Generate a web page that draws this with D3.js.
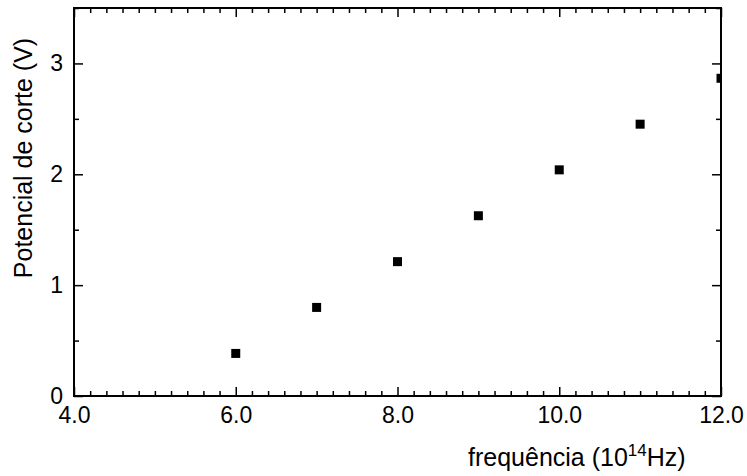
<!DOCTYPE html>
<html>
<head>
<meta charset="utf-8">
<script src="https://cdn.jsdelivr.net/npm/d3@7"></script>
<style>
body { margin: 0; background: #fff; }
text { font-family: "Liberation Sans", Arial, sans-serif; }
</style>
</head>
<body>
<div id="chart"></div>
<script>
// frequency (10^14 Hz) vs stopping potential (V)
var frequencia = [6, 7, 8, 9, 10, 11, 12];
var potencial = [0.384, 0.799, 1.212, 1.626, 2.04, 2.452, 2.866];
var xTicks = [4, 6, 8, 10, 12];
var yTicks = [0, 1, 2, 3];

var W = 747, H = 476;
var margin = {top: 8, right: 26, bottom: 80, left: 74},
    width = W - margin.left - margin.right,
    height = H - margin.top - margin.bottom;

var svg = d3.select("#chart")
  .append("svg")
  .attr("width", W)
  .attr("height", H);

var g = svg.append("g")
  .attr("transform", "translate(" + margin.left + "," + margin.top + ")");

var x = d3.scaleLinear().domain([4, 12]).range([0, width]);
var y = d3.scaleLinear().domain([0, 3.5]).range([height, 0]);

var xMinor = d3.range(4, 12.001, 0.2).filter(function(v) { return Math.abs(v / 2 - Math.round(v / 2)) > 0.01; });
var yMinor = [0.5, 1.5, 2.5, 3.5];

function styleAxis(sel) {
  sel.select(".domain").remove();
  sel.selectAll("line").attr("stroke", "#000").attr("stroke-width", 1.5);
  sel.selectAll("text").attr("fill", "#000").style("font-size", "23px");
}

// bottom
g.append("g").attr("transform", "translate(0," + height + ")")
  .call(d3.axisBottom(x).tickValues(xTicks).tickSize(-9).tickPadding(11).tickFormat(d3.format(".1f")))
  .call(styleAxis);
g.append("g").attr("transform", "translate(0," + height + ")")
  .call(d3.axisBottom(x).tickValues(xMinor).tickSize(-5).tickFormat(""))
  .call(styleAxis);
// top
g.append("g")
  .call(d3.axisTop(x).tickValues(xTicks).tickSize(-9).tickFormat(""))
  .call(styleAxis);
g.append("g")
  .call(d3.axisTop(x).tickValues(xMinor).tickSize(-5).tickFormat(""))
  .call(styleAxis);
// left
g.append("g")
  .call(d3.axisLeft(y).tickValues(yTicks).tickSize(-9).tickPadding(11).tickFormat(d3.format("d")))
  .call(styleAxis);
g.append("g")
  .call(d3.axisLeft(y).tickValues(yMinor).tickSize(-5).tickFormat(""))
  .call(styleAxis);
// right
g.append("g").attr("transform", "translate(" + width + ",0)")
  .call(d3.axisRight(y).tickValues(yTicks).tickSize(-9).tickFormat(""))
  .call(styleAxis);
g.append("g").attr("transform", "translate(" + width + ",0)")
  .call(d3.axisRight(y).tickValues(yMinor).tickSize(-5).tickFormat(""))
  .call(styleAxis);

// frame
g.append("rect")
  .attr("x", 0).attr("y", 0)
  .attr("width", width).attr("height", height)
  .attr("fill", "none")
  .attr("stroke", "#000")
  .attr("stroke-width", 2);

g.append("clipPath").attr("id", "clip")
  .append("rect").attr("width", width).attr("height", height);

// points
var s = 9;
g.append("g").attr("clip-path", "url(#clip)")
  .selectAll("rect")
  .data(frequencia)
  .enter()
  .append("rect")
  .attr("x", function(d) { return x(d) - s / 2; })
  .attr("y", function(d, i) { return y(potencial[i]) - s / 2; })
  .attr("width", s)
  .attr("height", s)
  .attr("fill", "#000");

// axis titles
var xt = svg.append("text")
  .attr("x", 468)
  .attr("y", 466)
  .style("font-size", "25px")
  .attr("fill", "#000");
xt.append("tspan").text("frequência (10");
xt.append("tspan").attr("dy", -10).style("font-size", "17px").text("14");
xt.append("tspan").attr("dy", 10).text("Hz)");

svg.append("text")
  .attr("transform", "translate(32,158) rotate(-90)")
  .style("text-anchor", "middle")
  .style("font-size", "25px")
  .attr("fill", "#000")
  .text("Potencial de corte (V)");
</script>
</body>
</html>
